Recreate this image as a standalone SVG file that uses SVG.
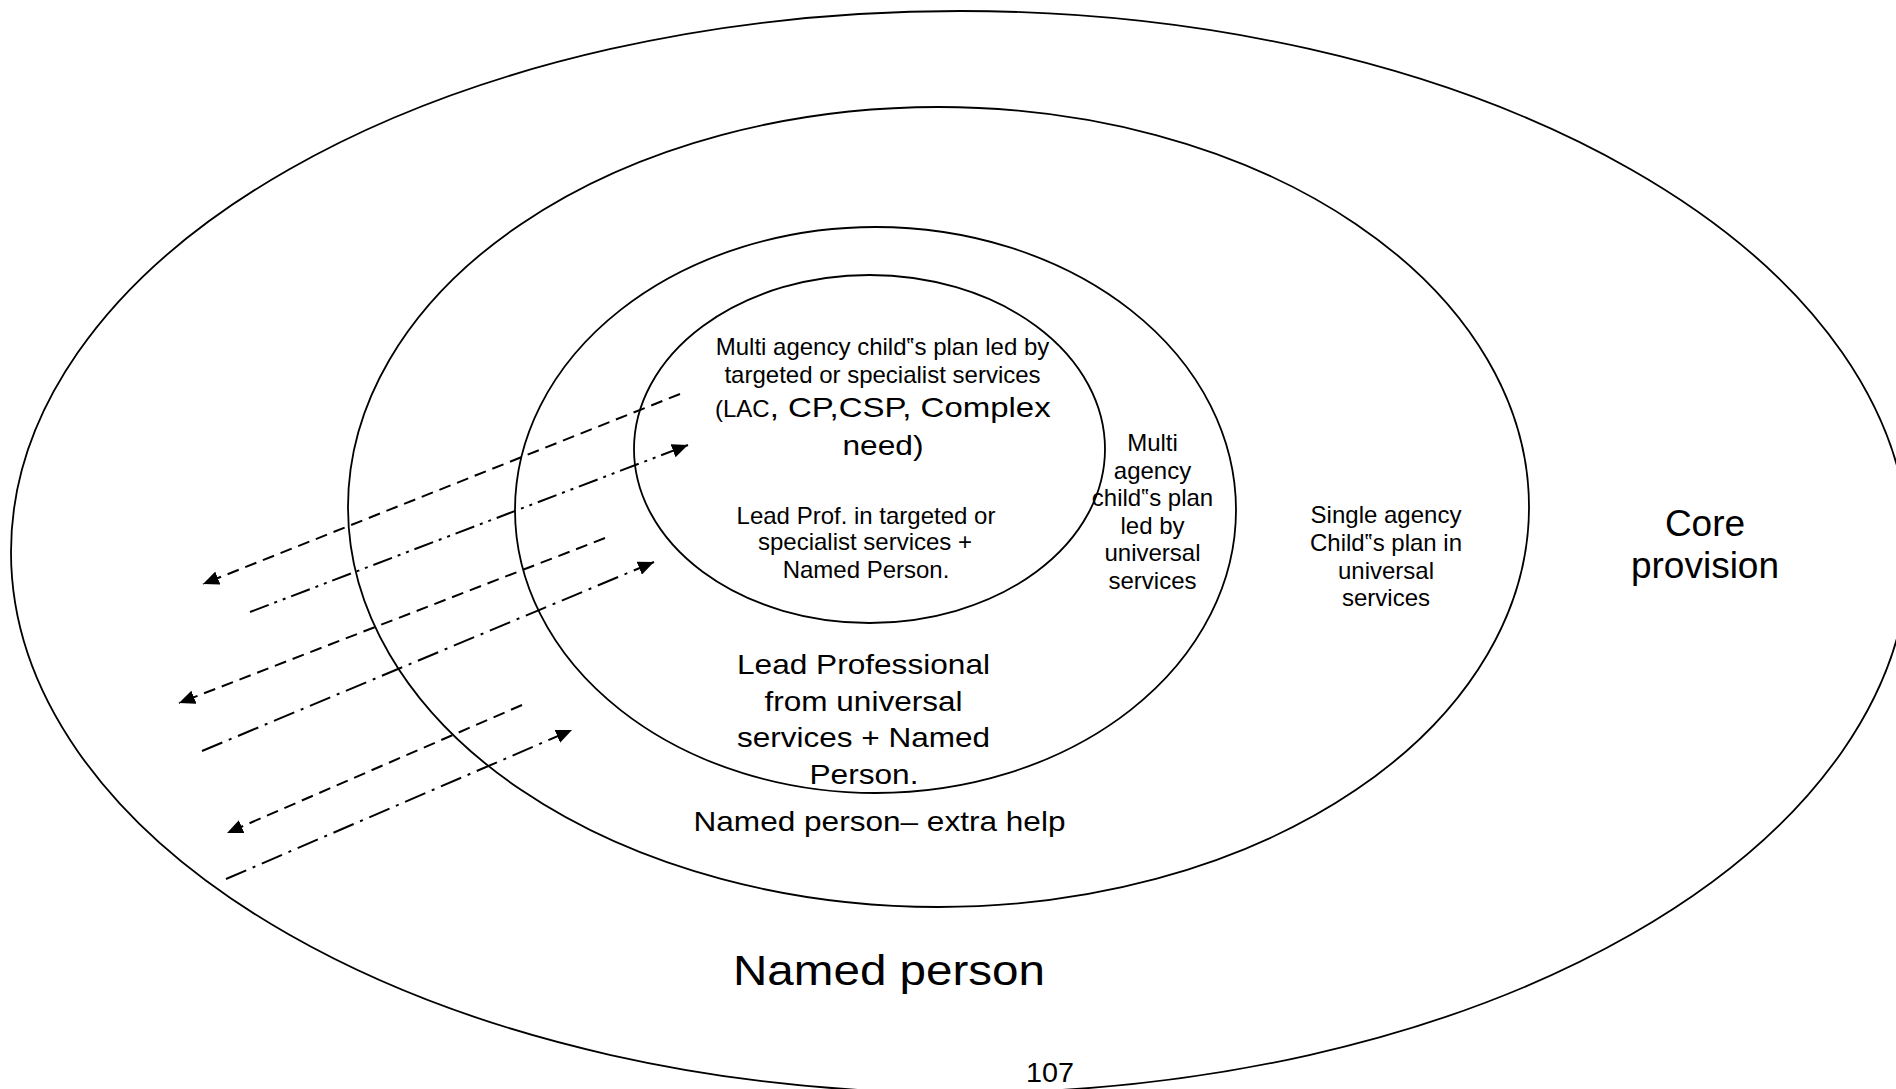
<svg xmlns="http://www.w3.org/2000/svg" width="1896" height="1089" viewBox="0 0 1896 1089">
<style>
  .ring { fill: none; stroke: #000; stroke-width: 1.8; }
  .t { font-family: "Liberation Sans", Arial, sans-serif; fill: #000; text-anchor: middle; }
  .s24 { font-size: 24px; }
  .s28 { font-size: 28px; }
  .conn { fill: none; stroke: #000; stroke-width: 2; }
  .dash { stroke-dasharray: 12 7; }
  .dd { stroke-dasharray: 20 6 3 6 3 6; }
  .dot1 { stroke-dasharray: 22 7 3 7; }
</style>
<defs>
  <marker id="ah" markerUnits="userSpaceOnUse" markerWidth="18" markerHeight="14" refX="16" refY="7" orient="auto">
    <path d="M0,0 L16,7 L0,14 z" fill="#000"/>
  </marker>
</defs>
<rect x="0" y="0" width="1896" height="1089" fill="#fff"/>

<g id="core-provision">
  <ellipse class="ring" cx="960" cy="552" rx="949" ry="541"/>
  <text class="t" x="1705" y="536" font-size="37">Core</text>
  <text class="t" x="1705" y="578" font-size="37">provision</text>
  <text class="t" x="889" y="985" font-size="42" textLength="312" lengthAdjust="spacingAndGlyphs">Named person</text>
</g>

<g id="single-agency">
  <ellipse class="ring" cx="938.5" cy="507" rx="590.5" ry="400"/>
  <text class="t s24" x="1386" y="523">Single agency</text>
  <text class="t s24" x="1386" y="551">Child‟s plan in</text>
  <text class="t s24" x="1386" y="578.5">universal</text>
  <text class="t s24" x="1386" y="606">services</text>
  <text class="t s28" x="879.5" y="831" textLength="372" lengthAdjust="spacingAndGlyphs">Named person– extra help</text>
</g>

<g id="multi-universal">
  <ellipse class="ring" cx="875.5" cy="510" rx="360.5" ry="283"/>
  <text class="t s24" x="1152.5" y="451">Multi</text>
  <text class="t s24" x="1152.5" y="478.6">agency</text>
  <text class="t s24" x="1152.5" y="506.2">child‟s plan</text>
  <text class="t s24" x="1152.5" y="533.8">led by</text>
  <text class="t s24" x="1152.5" y="561.4">universal</text>
  <text class="t s24" x="1152.5" y="589">services</text>
  <text class="t s28" x="863.5" y="674" textLength="253" lengthAdjust="spacingAndGlyphs">Lead Professional</text>
  <text class="t s28" x="863.5" y="711" textLength="198" lengthAdjust="spacingAndGlyphs">from universal</text>
  <text class="t s28" x="863.5" y="747" textLength="253" lengthAdjust="spacingAndGlyphs">services + Named</text>
  <text class="t s28" x="864" y="784" textLength="109" lengthAdjust="spacingAndGlyphs">Person.</text>
</g>

<g id="multi-targeted">
  <ellipse class="ring" cx="869.5" cy="449" rx="235.5" ry="174"/>
  <text class="t s24" x="882.5" y="355">Multi agency child‟s plan led by</text>
  <text class="t s24" x="882.5" y="383">targeted or specialist services</text>
  <text class="t" x="715" y="417" style="text-anchor:start"><tspan font-size="24">(LAC</tspan><tspan font-size="28" textLength="281" lengthAdjust="spacingAndGlyphs">, CP,CSP, Complex</tspan></text>
  <text class="t s28" x="883" y="455" textLength="81" lengthAdjust="spacingAndGlyphs">need)</text>
  <text class="t s24" x="866" y="524">Lead Prof. in targeted or</text>
  <text class="t s24" x="865" y="550">specialist services +</text>
  <text class="t s24" x="866" y="578">Named Person.</text>
</g>

<g id="connectors">
  <line class="conn dash" x1="680" y1="394" x2="203" y2="584" marker-end="url(#ah)"/>
  <line class="conn dd" x1="250" y1="612" x2="688" y2="445" marker-end="url(#ah)"/>
  <line class="conn dash" x1="605" y1="538" x2="179" y2="703" marker-end="url(#ah)"/>
  <line class="conn dot1" x1="202" y1="751" x2="654" y2="562" marker-end="url(#ah)"/>
  <line class="conn dash" x1="522" y1="705" x2="227" y2="833" marker-end="url(#ah)"/>
  <line class="conn dot1" x1="226" y1="879" x2="572" y2="730" marker-end="url(#ah)"/>
</g>

<text class="t" x="1050" y="1082" font-size="27" textLength="48" lengthAdjust="spacingAndGlyphs">107</text>
</svg>
